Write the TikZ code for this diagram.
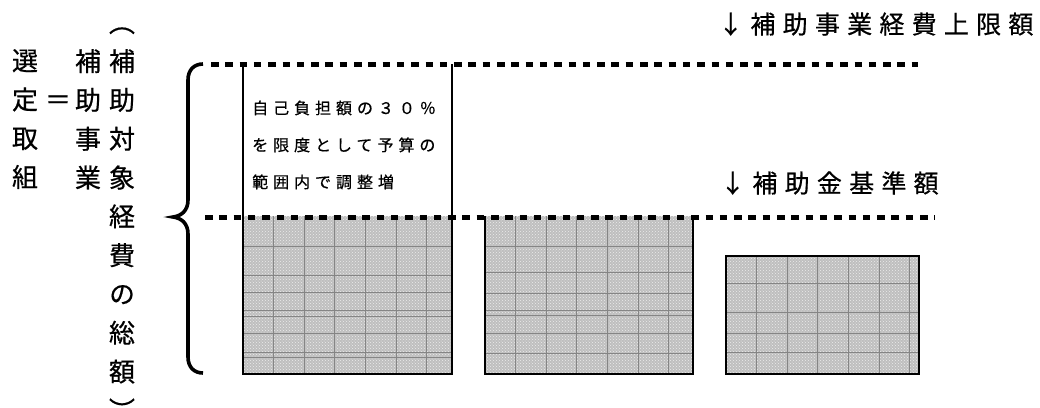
\documentclass[tikz,border=0pt]{standalone}
\usepackage{fontspec}
\usetikzlibrary{patterns}
\setmainfont{Noto Sans CJK JP}[FakeBold=0.6]
\newfontfamily\jpv[RawFeature=+vert,FakeBold=0.6]{Noto Sans CJK JP}
\newcommand\hatchbox[5]{%
  \fill[hatch] (#1,#2) rectangle (#3,#4);
  \fill[pattern=crosshatch dots, pattern color=white!85!gray] (#1,#2) rectangle (#3,#4);
  \begin{scope}
    \clip (#1,#2) rectangle (#3,#4);
    \foreach \i in {1,...,6} \draw[gridline] ({#1+30.6*\i},#2) -- ({#1+30.6*\i},#4);
    \foreach \yy in {#5} \draw[gridline] (#1,\yy) -- (#3,\yy);
  \end{scope}}
\begin{document}
\begin{tikzpicture}[x=1pt,y=-1pt,
  dotline/.style={line width=5pt, dash pattern=on 7.5pt off 6.8pt},
  frame/.style={line width=2.6pt},
  hatch/.style={fill=gray!50},
  gridline/.style={black!48, line width=0.9pt},
  bigtxt/.style={font=\fontsize{25}{30}\selectfont\addfontfeature{LetterSpace=29}, inner sep=0pt, anchor=base west},
  smalltxt/.style={font=\fontsize{16}{18}\selectfont\addfontfeature{LetterSpace=31}, inner sep=0pt, anchor=base west},
  vtxt/.style={font=\fontsize{26}{38.8}\selectfont, align=center, inner sep=0pt, anchor=north}]
\useasboundingbox (0,0) rectangle (1040,407);

% hatched bars
\hatchbox{243}{216}{452}{374}{246,275,292,310,316,333,352,357}
\hatchbox{485}{216}{693}{374}{246,272,293,310,315,333,353}
\hatchbox{726}{256}{919}{374}{283,312,333,352}

% frames
\draw[frame] (243,64) -- (243,374) -- (452,374) -- (452,64);
\draw[frame] (485,216) -- (485,374) -- (693,374) -- (693,216);
\draw[frame] (726,256) rectangle (919,374);

% dotted level lines
\coordinate (u1) at (211,64); \coordinate (u2) at (918,64);
\coordinate (l1) at (205,217); \coordinate (l2) at (935,217);
\draw[dotline] (u1) -- (u2);
\draw[dotline] (l1) -- (l2);

% brace
\draw[line width=3.6pt] (203,64) .. controls (194,64) and (188,70) .. (188,80) -- (188,200)
  .. controls (188,211) and (181,216) .. (173,217)
  .. controls (181,218) and (188,223) .. (188,234) -- (188,357)
  .. controls (188,367) and (194,373) .. (203,373);

% texts
\node[bigtxt] (t1) at (718,33.5) {↓補助事業経費上限額};
\node[bigtxt] (t2) at (720,192.5) {↓補助金基準額};
\node[smalltxt] (s1) at (252,114) {自己負担額の３０％};
\node[smalltxt] (s2) at (252,151) {を限度として予算の};
\node[smalltxt] (s3) at (252,188) {範囲内で調整増};

\node[vtxt] (c1) at (25,49) {選\\定\\取\\組};
\node[font=\fontsize{26}{30}\selectfont, inner sep=0pt] (eq) at (58,102.3) {＝};
\node[vtxt] (c2) at (88,49) {補\\助\\事\\業};
\node[vtxt, font=\jpv\fontsize{26}{38.8}\selectfont] (c3) at (122,10.2) {\vphantom{補}（\\補\\助\\対\\象\\経\\費\\の\\総\\額\\）};
\end{tikzpicture}
\end{document}
